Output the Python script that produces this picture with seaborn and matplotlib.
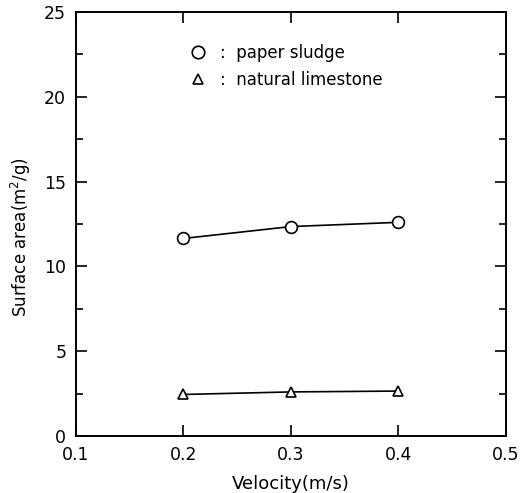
import numpy as np
import pandas as pd
import matplotlib
matplotlib.use("Agg")
import matplotlib.pyplot as plt
import seaborn as sns
from matplotlib.ticker import MultipleLocator
from matplotlib.lines import Line2D

velocity = [0.2, 0.3, 0.4]
paper_sludge = [11.65, 12.35, 12.6]
natural_limestone = [2.45, 2.6, 2.65]
series_names = ["paper sludge", "natural limestone"]
x_ticks = [0.1, 0.2, 0.3, 0.4, 0.5]
y_ticks = [0, 5, 10, 15, 20, 25]

df = pd.DataFrame({
    "Velocity": velocity * 2,
    "Area": paper_sludge + natural_limestone,
    "Material": [series_names[0]] * 3 + [series_names[1]] * 3,
})

sns.set_style("ticks")
plt.rcParams["font.family"] = ["DejaVu Sans"]
plt.rcParams["text.color"] = "black"
plt.rcParams["axes.labelcolor"] = "black"

fig = plt.figure(figsize=(5.2, 4.93), dpi=100)
ax = fig.add_axes([0.146, 0.1156, 0.827, 0.86])

markers = {"paper sludge": "o", "natural limestone": "^"}
sizes = {"paper sludge": 8.5, "natural limestone": 7.5}
for name in series_names:
    sub = df[df["Material"] == name]
    sns.lineplot(data=sub, x="Velocity", y="Area", ax=ax, color="black",
                 marker=markers[name], markersize=sizes[name],
                 markerfacecolor="white", markeredgecolor="black",
                 markeredgewidth=1.2, linewidth=1.2, legend=False)

ax.set_xlim(0.1, 0.5)
ax.set_ylim(0, 25)
ax.set_xticks(x_ticks)
ax.set_yticks(y_ticks)
ax.set_xticklabels([f"{v:.1f}" for v in x_ticks])
ax.set_yticklabels([str(v) for v in y_ticks])
ax.yaxis.set_minor_locator(MultipleLocator(2.5))
ax.tick_params(which="both", direction="in", top=True, right=True,
               labelsize=12.5, width=1.2, colors="black")
ax.tick_params(which="major", length=8, pad=7)
ax.tick_params(which="minor", length=5)
for s in ax.spines.values():
    s.set_linewidth(1.4)
    s.set_color("black")

ax.set_xlabel("Velocity(m/s)", fontsize=13, labelpad=8)
ax.set_ylabel("Surface area(m$^{2}$/g)", fontsize=12, labelpad=10)
ax.yaxis.set_label_coords(-0.10, 0.47)

handles = [
    Line2D([], [], linestyle="none", marker="o", markersize=9,
           markerfacecolor="white", markeredgecolor="black", markeredgewidth=1.2),
    Line2D([], [], linestyle="none", marker="^", markersize=7.5,
           markerfacecolor="white", markeredgecolor="black", markeredgewidth=1.2),
]
ax.legend(handles, [":  " + n for n in series_names], frameon=False,
          loc="upper left", bbox_to_anchor=(0.234, 0.96), fontsize=12,
          handlelength=0.8, handletextpad=0.9, labelspacing=0.55)

fig.savefig("out.png", dpi=100, facecolor="white")
